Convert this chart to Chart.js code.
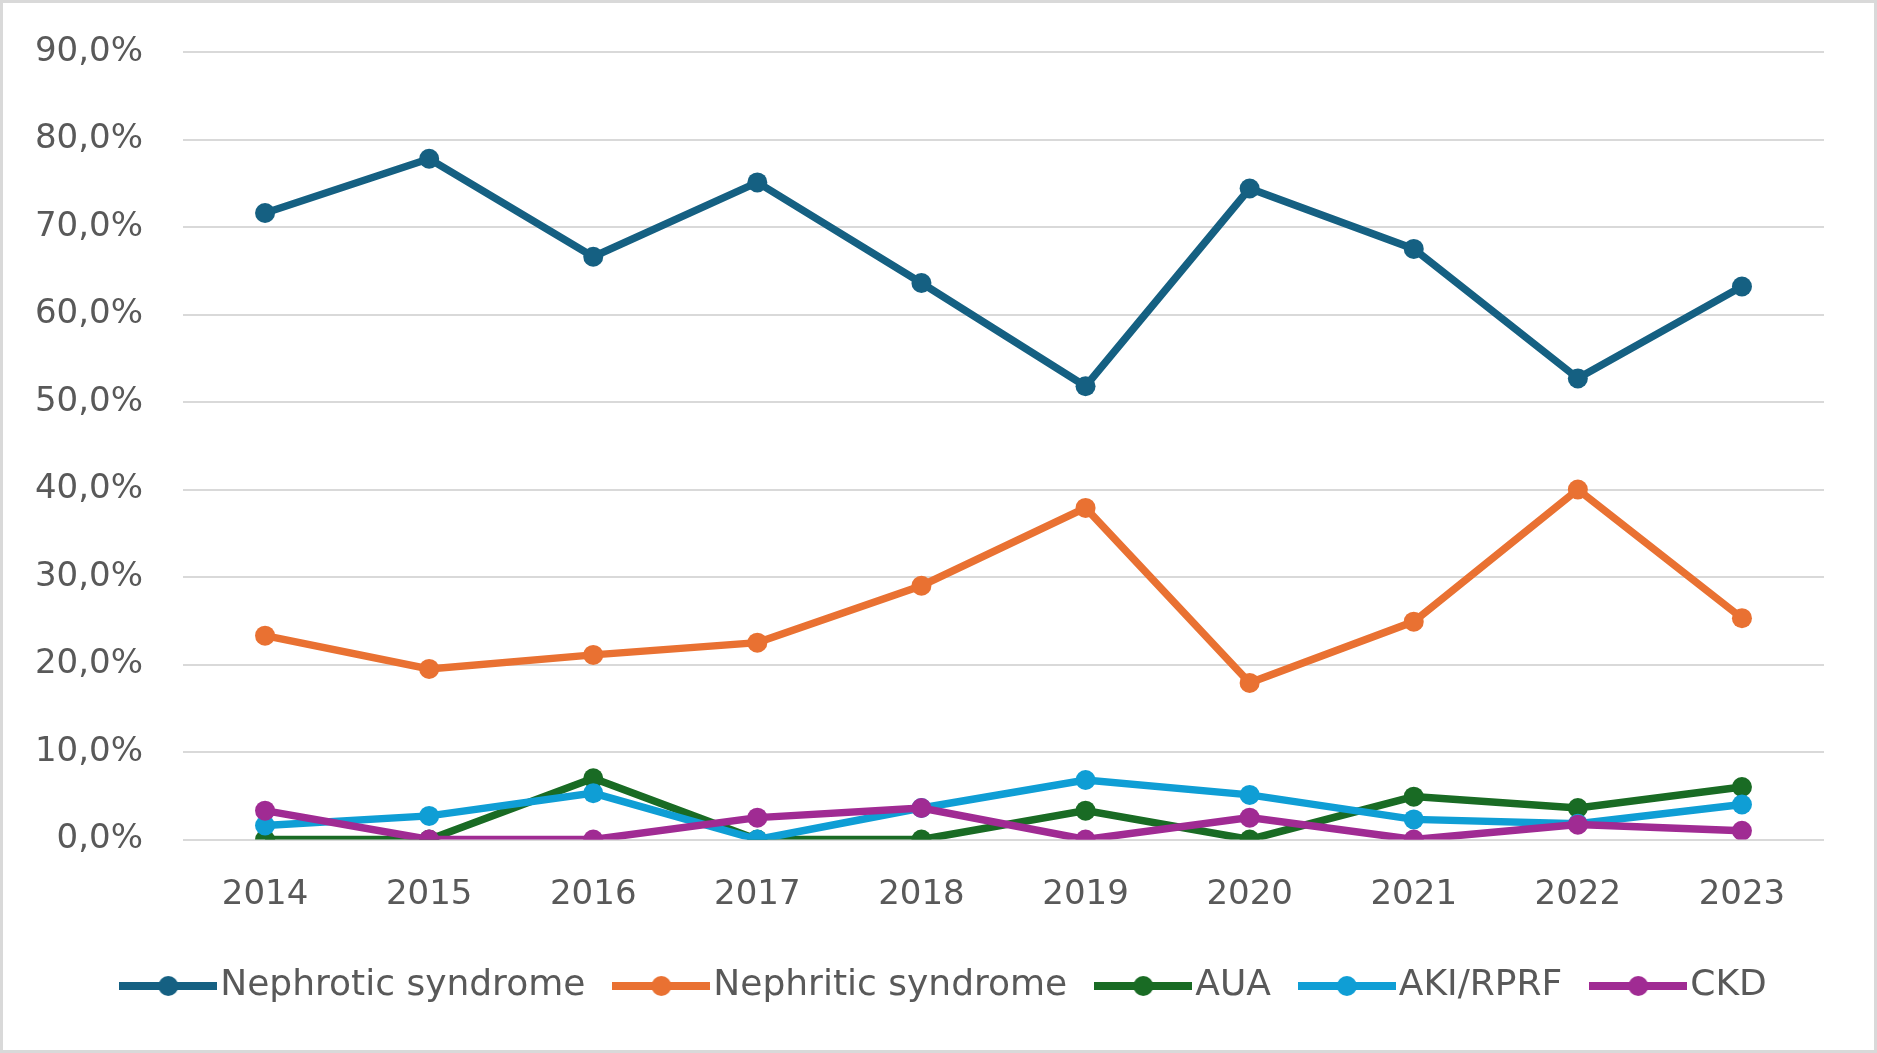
<!DOCTYPE html>
<html>
<head>
<meta charset="utf-8">
<script src="https://cdn.jsdelivr.net/npm/chart.js@4.4.0/dist/chart.umd.min.js"></script>
<style>
html,body{margin:0;padding:0;background:#fff;}
#wrap{width:1877px;height:1053px;}
canvas{display:block;}
</style>
</head>
<body>
<div id="wrap"><canvas id="c" width="1877" height="1053"></canvas></div>
<script>
// ---- data ----
const years = ['2014','2015','2016','2017','2018','2019','2020','2021','2022','2023'];
const seriesNames = ['Nephrotic syndrome','Nephritic syndrome','AUA','AKI/RPRF','CKD'];
const nephrotic = [71.6, 77.8, 66.6, 75.1, 63.6, 51.8, 74.4, 67.5, 52.7, 63.2];
const nephritic = [23.3, 19.5, 21.1, 22.5, 29.0, 37.9, 17.9, 24.9, 40.0, 25.3];
const aua       = [0.0, 0.0, 7.0, 0.0, 0.0, 3.3, 0.0, 4.9, 3.6, 6.0];
const akiRprf   = [1.6, 2.7, 5.3, 0.0, 3.6, 6.8, 5.1, 2.3, 1.8, 4.0];
const ckd       = [3.3, 0.0, 0.0, 2.5, 3.6, 0.0, 2.5, 0.0, 1.7, 1.0];
const yMin = 0, yMax = 90, yStep = 10;

// ---- styles ----
const colors = ['#156082','#E97132','#196B24','#0F9ED5','#A02B93'];
const textColor = '#595959';
const gridColor = '#D9D9D9';
const fontFamily = '"DejaVu Sans", "Liberation Sans", Arial, sans-serif';

const allSeries = [nephrotic, nephritic, aua, akiRprf, ckd];

function legendImage(color){
  const cv = document.createElement('canvas');
  cv.width = 98; cv.height = 24;
  const g = cv.getContext('2d');
  g.strokeStyle = color; g.lineWidth = 8; g.lineCap = 'butt';
  g.beginPath(); g.moveTo(0, 12); g.lineTo(98, 12); g.stroke();
  g.fillStyle = color;
  g.beginPath(); g.arc(49, 12, 10, 0, Math.PI*2); g.fill();
  return cv;
}
const legendImgs = colors.map(legendImage);

const datasets = allSeries.map((d, i) => ({
  label: seriesNames[i],
  data: d,
  borderColor: colors[i],
  backgroundColor: colors[i],
  pointBackgroundColor: colors[i],
  pointBorderColor: colors[i],
  borderWidth: 7.5,
  pointRadius: 10,
  pointBorderWidth: 0,
  pointHoverRadius: 10,
  tension: 0,
  fill: false,
  order: allSeries.length - i
}));

const frame = {
  id: 'frame',
  beforeDraw(chart){
    const ctx = chart.ctx;
    ctx.save();
    ctx.fillStyle = '#ffffff';
    ctx.fillRect(0, 0, chart.width, chart.height);
    ctx.strokeStyle = '#D9D9D9';
    ctx.lineWidth = 3;
    ctx.strokeRect(1.5, 1.5, chart.width - 3, chart.height - 3);
    ctx.restore();
  },
  afterLayout(chart){
    // nudge legend content slightly right, as in the reference
    if (chart.legend){ chart.legend.left += 21; chart.legend.right += 21; }
  }
};

new Chart(document.getElementById('c'), {
  type: 'line',
  data: { labels: years, datasets },
  plugins: [frame],
  options: {
    responsive: false,
    animation: false,
    devicePixelRatio: 1,
    layout: { padding: { left: 35, right: 53, top: 52, bottom: 39 } },
    plugins: {
      tooltip: { enabled: false },
      title: { display: false },
      legend: {
        position: 'bottom',
        align: 'center',
        labels: {
          usePointStyle: true,
          pointStyleWidth: 68,
          boxHeight: 36,
          padding: 42,
          color: textColor,
          font: { family: fontFamily, size: 36 },
          generateLabels(chart){
            return chart.data.datasets.map((ds, i) => ({
              text: ds.label,
              fillStyle: colors[i],
              strokeStyle: colors[i],
              lineWidth: 0,
              pointStyle: legendImgs[i],
              fontColor: textColor,
              hidden: false,
              datasetIndex: i
            }));
          }
        }
      }
    },
    scales: {
      x: {
        type: 'category',
        offset: true,
        grid: { display: false, drawTicks: false },
        border: { display: false },
        ticks: {
          color: textColor,
          padding: 35,
          maxRotation: 0,
          font: { family: fontFamily, size: 34 }
        },
        afterFit(axis){ axis.height = 86.5; }
      },
      y: {
        min: yMin,
        max: yMax,
        grid: { color: gridColor, lineWidth: 2, drawTicks: false },
        border: { display: false },
        ticks: {
          stepSize: yStep,
          color: textColor,
          padding: 40,
          font: { family: fontFamily, size: 34 },
          callback: (v) => v.toFixed(1).replace('.', ',') + '%'
        },
        afterFit(axis){ axis.width = 148; axis.paddingTop = 0; axis.paddingBottom = 0; }
      }
    }
  }
});
</script>
</body>
</html>
